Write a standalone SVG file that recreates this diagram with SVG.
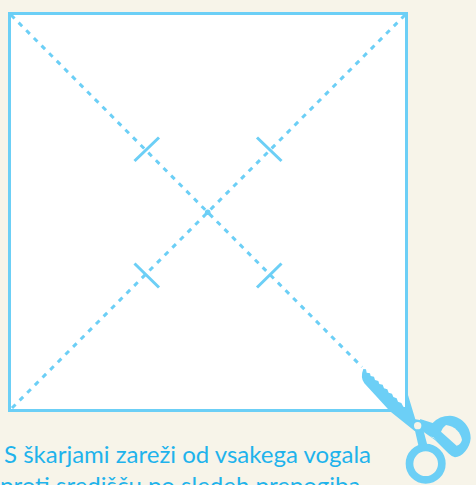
<svg xmlns="http://www.w3.org/2000/svg" width="476" height="485" viewBox="0 0 476 485">
<style>
.c{fill:none;stroke:#6ccff6}
.d{stroke-width:3;stroke-dasharray:5 5.800}
.t{stroke-width:3}
.s{fill:#6ccff6}
text{font-family:"Lato","Open Sans",sans-serif;font-size:24px;fill:#1fb3ec}
</style>
<rect width="476" height="485" fill="#f7f4e9"/>
<g id="square"><rect x="9.500" y="13.500" width="397" height="397" fill="#fff" stroke="#6ccff6" stroke-width="3"/></g>
<g id="connectors">
<path class="c d" d="M11 15L362 367"/>
<path class="c d" d="M405 15L10 410"/>
<path class="c t" d="M134.500 161L159 137.500M257 137.500L281.500 161M134.500 263.500L159 287.500M257 287.500L281.500 263.500"/>
<circle class="s" cx="207.700" cy="212.300" r="2.800"/>
</g>
<g id="scissors" transform="translate(340 350) scale(.33333)">
<path class="s" d="M70 57L78 58L80 68L90 70L92 78L102 80L105 90L115 93L118 102L128 104L132 115L142 118L146 128L156 131L160 141L170 145L174 155L184 159L190 170L197 172L195 130L204 135L226 208L252 212L250 250L224 243L150 184L73 100Q60 82 70 57Z"/>
<path class="s" d="M240 207L278 219Q298 197 330 197C368 199 394 235 392 265C390 295 365 322 345 322Q335 320 325 310L285 270L250 245Z"/>
<path d="M318 225C345 228 362 248 366 270Q362 284 350 287L303 245Q308 232 318 225Z" fill="#f7f4e9"/>
<path class="s" d="M224 238L250 240L262 285L236 290Z"/>
<path d="M254 255Q275 258 292 272L280 262Z" fill="#f7f4e9"/>
<circle cx="257" cy="341" r="48.500" fill="none" stroke="#6ccff6" stroke-width="23"/>
<circle cx="233" cy="227" r="11" fill="#f7f4e9"/>
</g>
<g id="caption">
<text x="4" y="463">S škarjami zareži od vsakega vogala</text>
<text x="0" y="494">proti središču po sledeh prepogiba</text>
</g>
</svg>
